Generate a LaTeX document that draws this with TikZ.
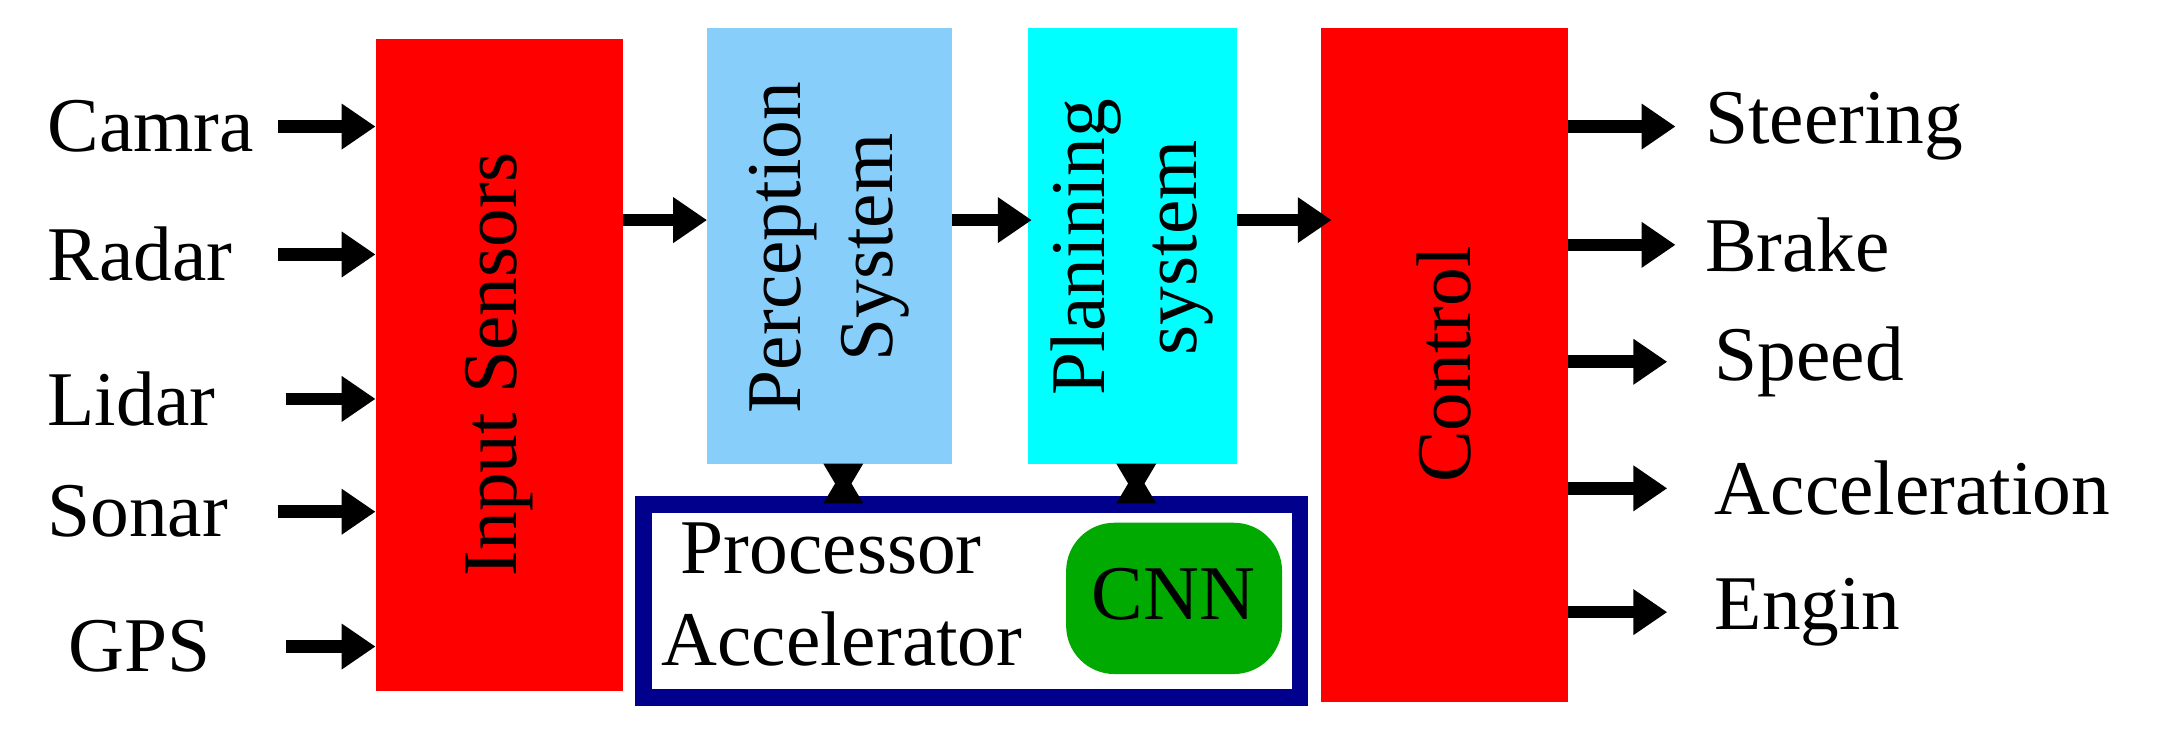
\documentclass[tikz,border=0pt]{standalone}
\usepackage{fontspec}
\setmainfont{Liberation Serif}
\usetikzlibrary{positioning,arrows.meta}
\definecolor{percblue}{RGB}{135,206,250}
\definecolor{plancyan}{RGB}{0,255,255}
\definecolor{procnavy}{RGB}{0,0,140}
\definecolor{cnngreen}{RGB}{0,170,0}

\begin{document}
\begin{tikzpicture}[x=0.01cm, y=-0.01cm, >={Triangle[length=7pt,width=9pt]}, line width=2.6pt,
    lbl/.style={font=\fontsize{16}{19}\selectfont, inner sep=0pt},
    vtxt/.style={font=\fontsize{16}{19}\selectfont, rotate=90, align=center}]
    \useasboundingbox (0,0) rectangle (1568,540);
    % Blocks
    \fill[red] (273,28) rectangle (453,502);
    \fill[percblue] (514,20) rectangle (692,337);
    \fill[plancyan] (747,20) rectangle (899,337);
    \fill[red] (960,20) rectangle (1140,510);
    \draw[procnavy, line width=3.5pt] (468,367) rectangle (945,507);
    \fill[cnngreen, rounded corners=10pt] (775,380) rectangle (932,490);
    \node[vtxt] (sens) at (363,265) {Input Sensors};
    \node[vtxt] (perc) at (603,180) {Perception\\ System};
    \node[vtxt] (plan) at (823,180) {Planining\\ system};
    \node[vtxt] (ctrl) at (1050,265) {Control};
    \node[lbl, align=left] (proc) at (612,432) {\ Processor\\Accelerator};
    \node[lbl] (cnn) at (853,432) {CNN};
    % Inputs
    \foreach \t/\yy/\xs/\xl [count=\i] in {Camra/92/202/30, Radar/185/202/30, Lidar/290/208/30, Sonar/372/202/30, GPS/470/208/45}{
      \node[lbl, anchor=west] (in\i) at (\xl,\yy) {\t};
      \coordinate (a\i) at (\xs,\yy);
      \coordinate (b\i) at (273,\yy);
      \draw[->] (a\i) -- (b\i);
    }
    % Outputs
    \foreach \t/\yy/\xl/\xe [count=\i] in {Steering/92/1235/1218, Brake/178/1235/1218, Speed/263/1242/1212, Acceleration/355/1242/1212, Engin/445/1242/1212}{
      \node[lbl, anchor=west] (out\i) at (\xl,\yy) {\t};
      \coordinate (c\i) at (1140,\yy);
      \coordinate (d\i) at (\xe,\yy);
      \draw[->] (c\i) -- (d\i);
    }
    % Chain
    \coordinate (s1) at (453,160); \coordinate (s2) at (514,160);
    \coordinate (p1) at (692,160); \coordinate (p2) at (750,160);
    \coordinate (q1) at (899,160); \coordinate (q2) at (968,160);
    \draw[->] (s1) -- (s2);
    \draw[->] (p1) -- (p2);
    \draw[->] (q1) -- (q2);
    % Processor links
    \coordinate (u1) at (613,337); \coordinate (u2) at (613,366);
    \coordinate (v1) at (826,337); \coordinate (v2) at (826,366);
    \draw[line width=1pt, {Triangle[reversed,length=7pt,width=8pt]}-{Triangle[reversed,length=7pt,width=8pt]}] (u1) -- (u2);
    \draw[line width=1pt, {Triangle[reversed,length=7pt,width=8pt]}-{Triangle[reversed,length=7pt,width=8pt]}] (v1) -- (v2);
\end{tikzpicture}
\end{document}
